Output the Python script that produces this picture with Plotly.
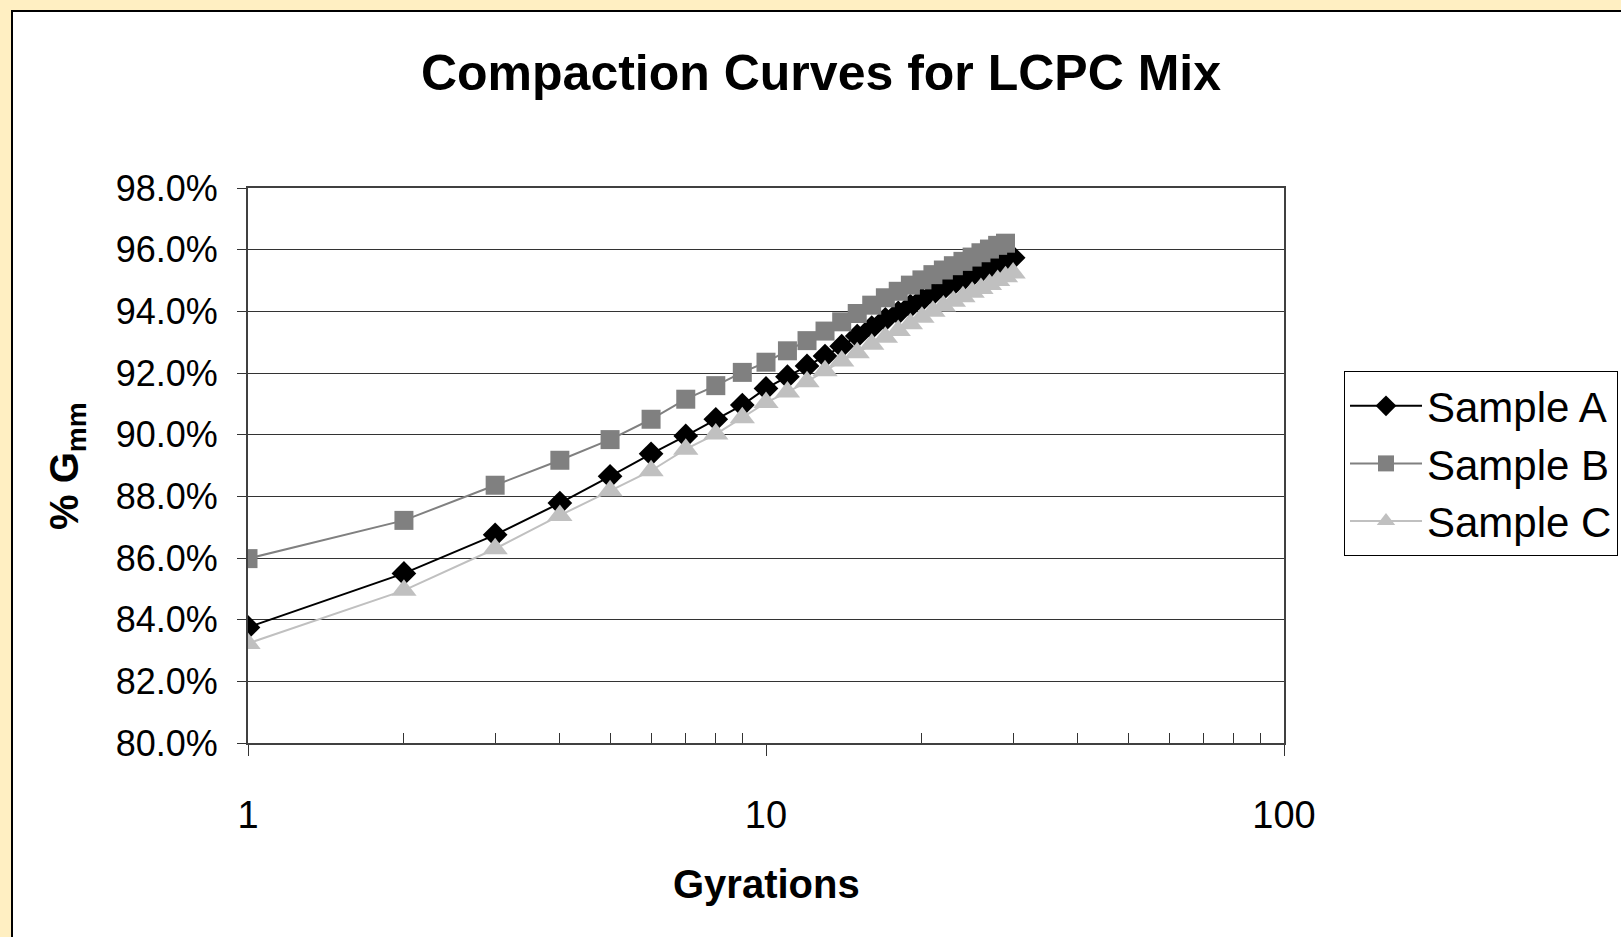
import plotly.graph_objects as go

# ---- data ----
gyrations_a = list(range(1, 31))
sample_a = [83.75, 85.5, 86.75, 87.78, 88.65, 89.38, 89.96, 90.5, 90.96, 91.5,
            91.88, 92.23, 92.55, 92.87, 93.2, 93.47, 93.74, 93.95, 94.17, 94.38,
            94.57, 94.74, 94.89, 95.03, 95.17, 95.3, 95.41, 95.54, 95.65, 95.74]

gyrations_b = list(range(1, 30))
sample_b = [85.98, 87.22, 88.36, 89.17, 89.84, 90.5, 91.15, 91.59, 92.02, 92.35,
            92.72, 93.05, 93.36, 93.66, 93.93, 94.2, 94.44, 94.65, 94.85, 95.02,
            95.19, 95.34, 95.48, 95.62, 95.76, 95.9, 96.02, 96.14, 96.21]

gyrations_c = list(range(1, 31))
sample_c = [83.23, 84.95, 86.3, 87.38, 88.18, 88.83, 89.53, 90.02, 90.55, 91.04,
            91.38, 91.72, 92.07, 92.39, 92.66, 92.93, 93.16, 93.38, 93.6, 93.81,
            94.0, 94.17, 94.33, 94.47, 94.62, 94.74, 94.87, 95.0, 95.12, 95.24]

series_names = ["Sample A", "Sample B", "Sample C"]
x_major_ticks = [1, 10, 100]
x_minor_ticks = [2, 3, 4, 5, 6, 7, 8, 9, 20, 30, 40, 50, 60, 70, 80, 90]

FONT = "Liberation Sans, Arial, Helvetica, sans-serif"

# pixel layout of the plot area
W, H = 1621, 937
L, R, T, B = 248, 1284, 188, 743
pw, ph = R - L, B - T


def px_x(px):
    return (px - L) / pw


def px_y(py):
    return (B - py) / ph


fig = go.Figure()
fig.add_trace(go.Scatter(
    x=gyrations_a, y=[v / 100 for v in sample_a], name=series_names[0],
    mode="lines+markers",
    line=dict(color="#000000", width=2),
    marker=dict(symbol="diamond", size=19, color="#000000")))
fig.add_trace(go.Scatter(
    x=gyrations_b, y=[v / 100 for v in sample_b], name=series_names[1],
    mode="lines+markers",
    line=dict(color="#808080", width=2),
    marker=dict(symbol="square", size=19, color="#808080")))
fig.add_trace(go.Scatter(
    x=gyrations_c, y=[v / 100 for v in sample_c], name=series_names[2],
    mode="lines+markers",
    line=dict(color="#C0C0C0", width=2),
    marker=dict(symbol="triangle-up", size=22, color="#C0C0C0")))

fig.update_layout(
    width=W, height=H,
    margin=dict(l=L, r=W - R, t=T, b=H - B, pad=0, autoexpand=False),
    paper_bgcolor="#FFEFC2",
    plot_bgcolor="#FFFFFF",
    font=dict(family=FONT, color="#000000"),
    showlegend=True,
    title=dict(text="<b>Compaction Curves for LCPC Mix</b>",
               x=821 / W, xanchor="center", y=1 - 72 / H, yanchor="middle",
               font=dict(size=50, family=FONT, color="#000000")),
    xaxis=dict(type="log", range=[0, 2],
               tickvals=x_major_ticks, ticktext=["1", "10", "100"],
               ticks="outside", ticklen=11, tickcolor="#333333", tickwidth=1,
               ticklabelstandoff=26,
               minor=dict(tickvals=x_minor_ticks, ticks="inside", ticklen=10,
                          tickcolor="#333333", showgrid=False),
               showgrid=False, zeroline=False,
               showline=True, linecolor="#404040", linewidth=2, mirror=True,
               tickfont=dict(size=38, family=FONT, color="#000000")),
    yaxis=dict(range=[0.80, 0.98], dtick=0.02, tick0=0.80, tickformat=".1%",
               ticks="outside", ticklen=9, tickcolor="#333333", tickwidth=1,
               ticklabelstandoff=12,
               showgrid=True, gridcolor="#333333", gridwidth=1, zeroline=False,
               showline=True, linecolor="#404040", linewidth=2, mirror=True,
               tickfont=dict(size=36, family=FONT, color="#000000")),
    legend=dict(x=px_x(1344), y=px_y(371), xanchor="left", yanchor="top",
                bgcolor="#FFFFFF", bordercolor="#000000", borderwidth=1,
                itemwidth=72, entrywidth=300, entrywidthmode="pixels",
                font=dict(size=42, family=FONT, color="#000000")),
    shapes=[dict(type="rect", xref="paper", yref="paper", layer="below",
                 x0=px_x(12), x1=px_x(W + 10), y0=px_y(11), y1=px_y(H + 10),
                 fillcolor="#FFFFFF", line=dict(color="#000000", width=2))],
    annotations=[
        dict(text="<b>Gyrations</b>", xref="paper", yref="paper",
             x=px_x(766), y=px_y(884), xanchor="center", yanchor="middle",
             showarrow=False, font=dict(size=40, family=FONT, color="#000000")),
        dict(text="<b>% G<sub>mm</sub></b>", xref="paper", yref="paper",
             x=px_x(67), y=px_y(466), xanchor="center", yanchor="middle",
             textangle=-90, showarrow=False,
             font=dict(size=40, family=FONT, color="#000000")),
    ],
)

fig.write_html("out.html", config={"displayModeBar": False},
               post_script="document.body.style.margin='0';document.body.style.overflow='hidden';")
